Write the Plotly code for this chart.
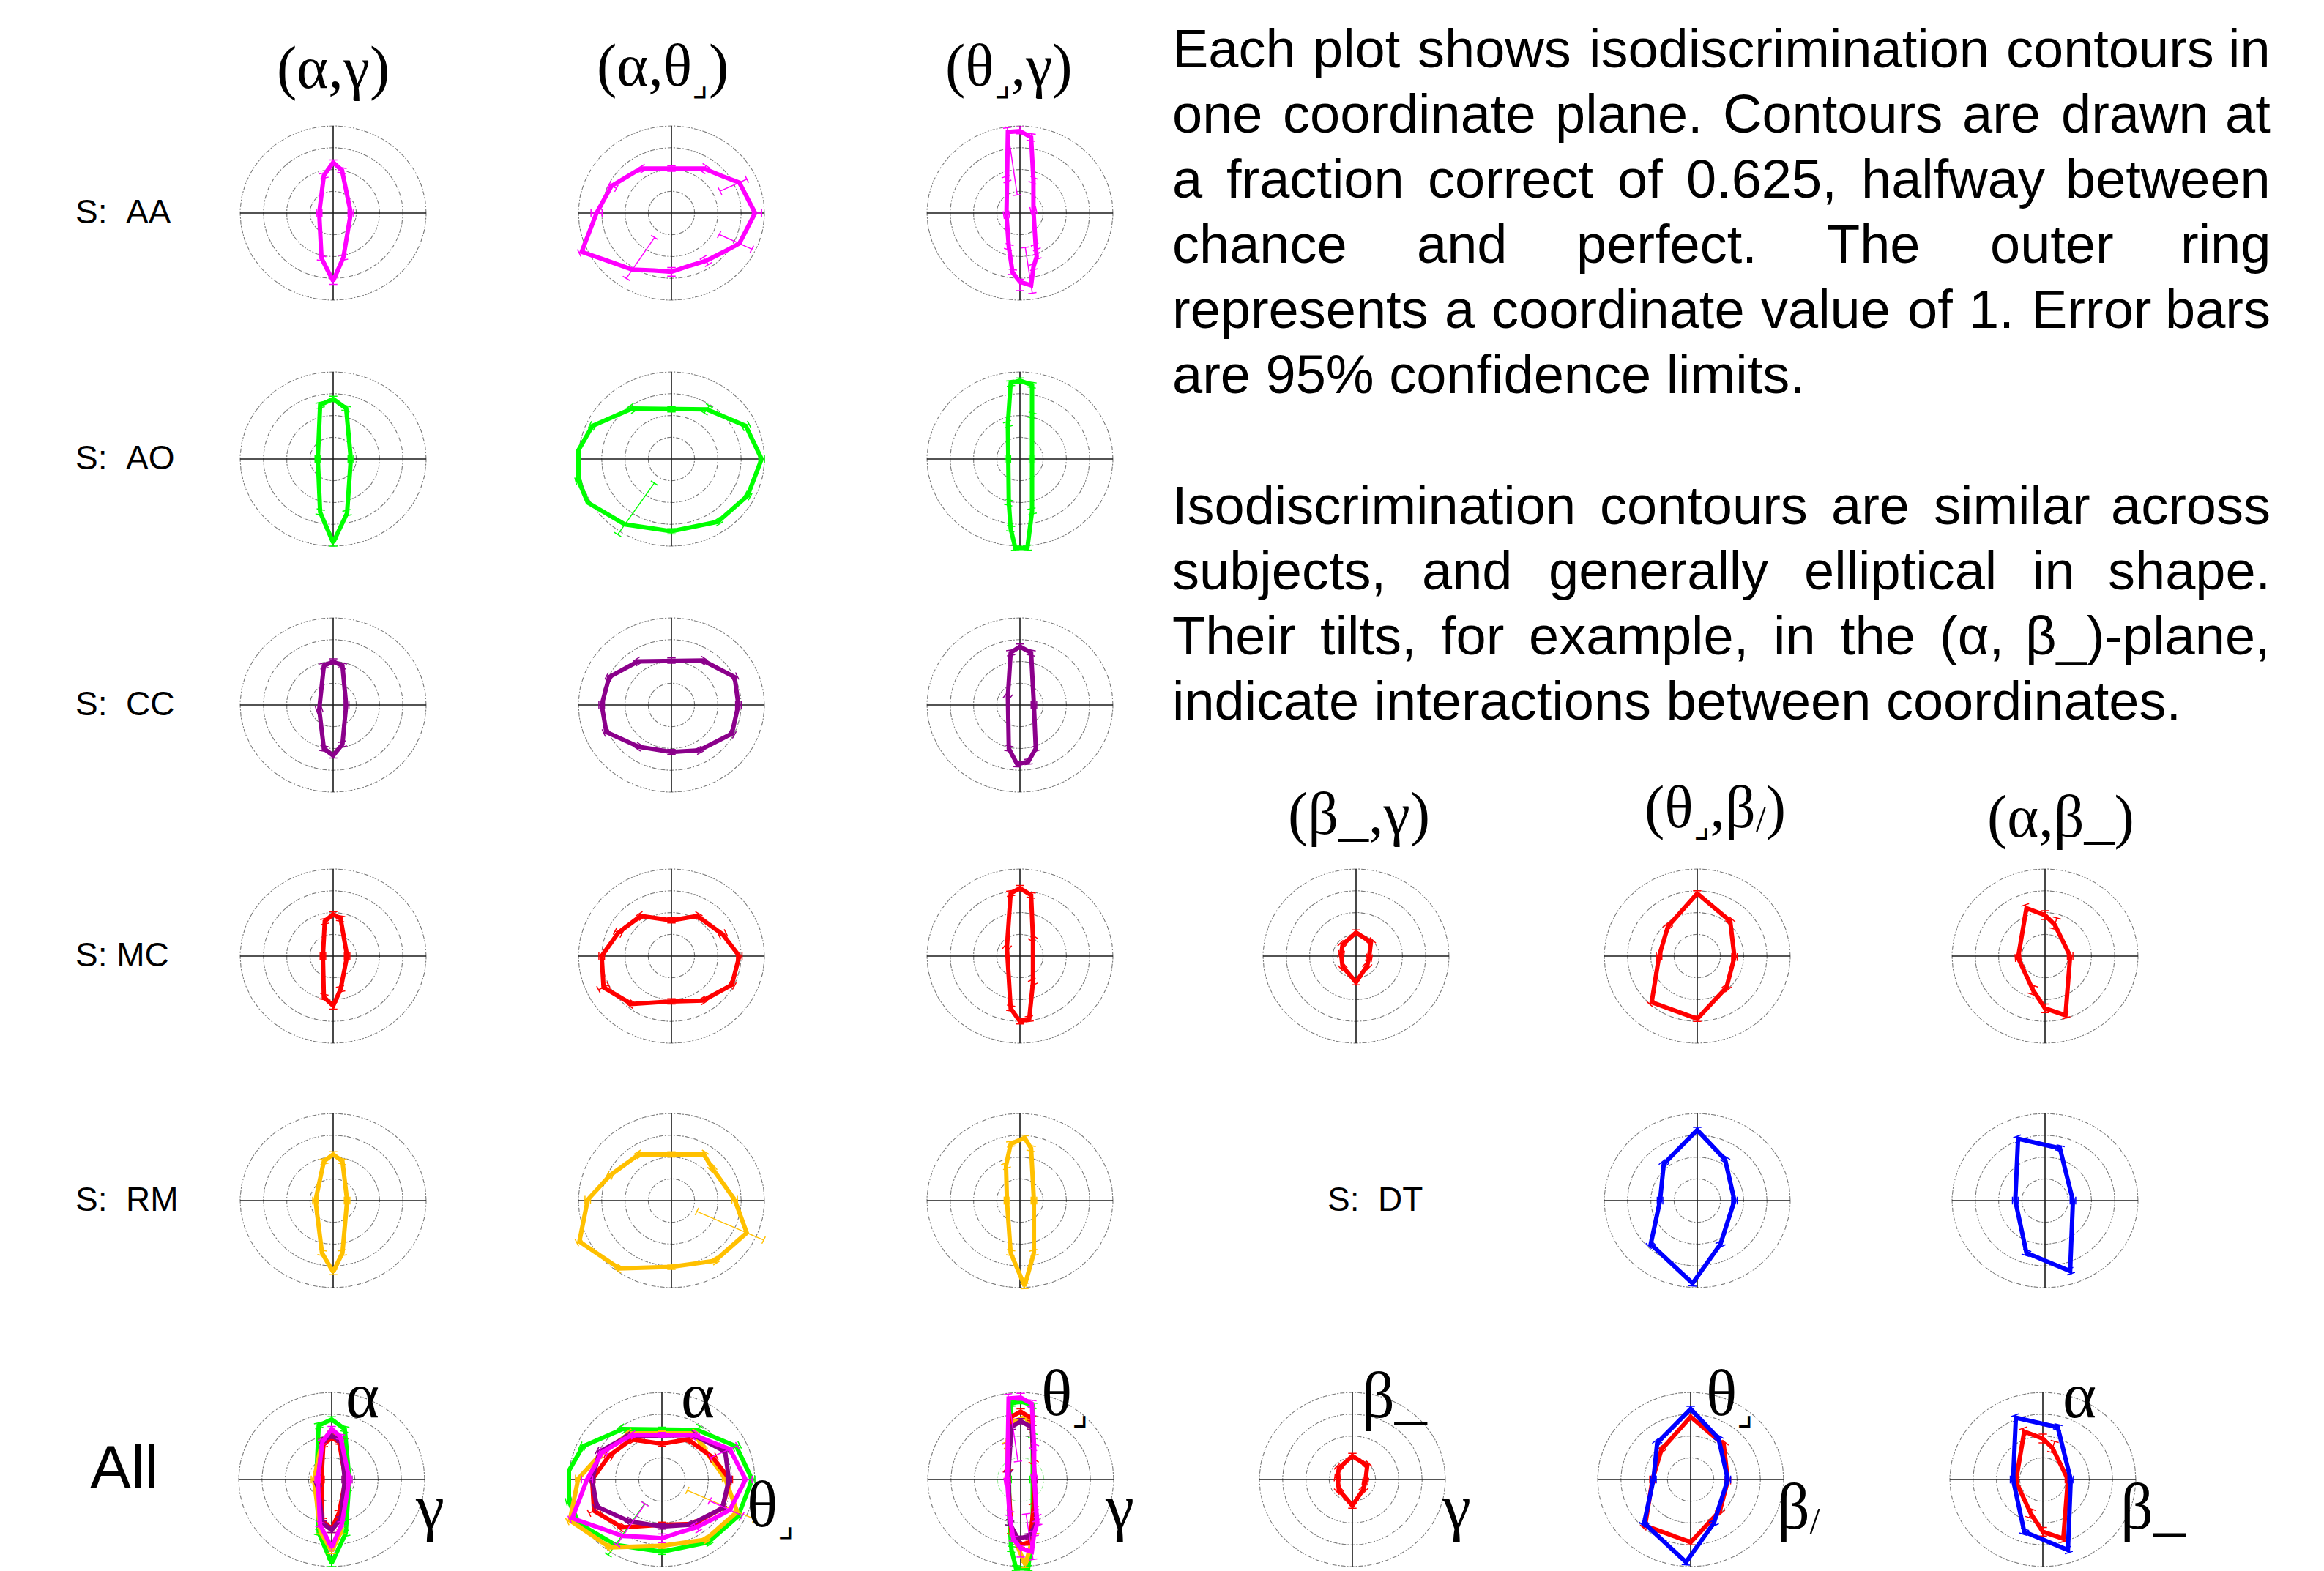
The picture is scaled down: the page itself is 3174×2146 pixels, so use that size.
import math
import plotly.graph_objects as go

W, H = 3174, 2146

# ---------------------------------------------------------------------------
# Isodiscrimination contours.  Each vertex: (x, y, inward limit, outward limit)
# in coordinate units; limits are 95% confidence extents along the radial
# direction through the vertex (0, 0 = no bar drawn).
# ---------------------------------------------------------------------------
AA_AG = [(0.19, 0.00, .03, .03), (0.095, 0.49, .03, .03), (0.00, 0.58, .03, .03),
         (-0.10, 0.43, .03, .03), (-0.15, 0.00, .03, .03), (-0.125, -0.52, .03, .03),
         (0.00, -0.78, .04, .04), (0.11, -0.51, .03, .03)]
AA_AT = [(0.90, 0.00, .03, .07), (0.73, 0.35, .23, .09), (0.555, 0.42, 0, 0),
         (0.35, 0.51, .04, .04), (0.00, 0.51, .03, .03), (-0.31, 0.51, .03, .03),
         (-0.38, 0.48, 0, 0), (-0.645, 0.31, .06, .03), (-0.805, 0.00, .06, .06),
         (-0.965, -0.445, .03, .03), (-0.685, -0.55, 0, 0), (-0.42, -0.65, .44, .12),
         (-0.19, -0.66, 0, 0), (0.00, -0.675, .05, .05), (0.195, -0.605, 0, 0),
         (0.37, -0.55, .05, .05), (0.555, -0.45, 0, 0), (0.73, -0.35, .24, .15)]
AA_TG = [(0.145, 0.03, .03, .03), (0.145, 0.375, .03, .03), (0.12, 0.87, .04, .04),
         (0.00, 0.94, .03, .05), (-0.13, 0.93, .73, .05), (-0.145, 0.39, .03, .03),
         (-0.145, -0.02, .03, .03), (-0.12, -0.39, .03, .03), (-0.08, -0.68, .03, .03),
         (0.00, -0.79, .03, .10), (0.12, -0.83, .44, .09), (0.145, -0.62, .03, .03),
         (0.18, -0.50, .03, .03), (0.17, -0.39, .03, .03)]

AO_AG = [(0.19, 0.00, .03, .03), (0.14, 0.58, .03, .03), (0.00, 0.69, .03, .03),
         (-0.14, 0.62, .03, .03), (-0.165, 0.00, .03, .03), (-0.14, -0.61, .03, .03),
         (0.00, -0.96, .04, .04), (0.15, -0.62, .03, .03)]
AO_AT = [(0.97, 0.00, .03, .03), (0.80, 0.38, .04, .04), (0.38, 0.57, .05, .05),
         (0.00, 0.57, .03, .03), (-0.42, 0.58, .04, .04), (-0.85, 0.38, .03, .03),
         (-1.00, 0.10, 0, 0), (-1.00, -0.25, .03, .03), (-0.90, -0.50, 0, 0),
         (-0.50, -0.75, .57, .14), (0.00, -0.83, .03, .03), (0.50, -0.72, .03, .03),
         (0.82, -0.42, .03, .03)]
AO_TG = [(0.13, 0.00, .03, .03), (0.13, 0.50, .03, .03), (0.13, 0.85, .03, .03),
         (0.00, 0.90, .03, .03), (-0.10, 0.87, .03, .03), (-0.13, 0.40, .03, .03),
         (-0.13, 0.00, .03, .03), (-0.12, -0.50, .03, .03), (-0.10, -0.80, .03, .03),
         (-0.05, -1.02, .03, .03), (0.08, -1.02, .03, .03), (0.13, -0.60, .03, .03)]

CC_AG = [(0.14, 0.00, .03, .03), (0.10, 0.45, .03, .03), (0.00, 0.50, .03, .03),
         (-0.10, 0.45, .03, .03), (-0.15, -0.05, .03, .03), (-0.10, -0.50, .03, .03),
         (0.00, -0.58, .03, .03), (0.10, -0.45, .03, .03)]
CC_AT = [(0.72, 0.00, .03, .03), (0.68, 0.32, .03, .03), (0.34, 0.51, .03, .03),
         (0.00, 0.51, .03, .03), (-0.36, 0.50, .03, .03), (-0.67, 0.32, .03, .03),
         (-0.75, 0.00, .03, .03), (-0.70, -0.31, .03, .03), (-0.35, -0.48, .03, .03),
         (0.00, -0.54, .03, .03), (0.30, -0.52, .03, .03), (0.65, -0.33, .03, .03)]
CC_TG = [(0.15, 0.00, .03, .03), (0.12, 0.60, .03, .03), (0.00, 0.67, .03, .03),
         (-0.10, 0.60, .03, .03), (-0.13, 0.10, .03, .03), (-0.12, -0.50, .03, .03),
         (-0.03, -0.68, .03, .03), (0.09, -0.65, .03, .03), (0.17, -0.50, .03, .03)]

MC_AG = [(0.15, 0.00, .03, .03), (0.08, 0.43, .03, .03), (0.00, 0.48, .03, .03),
         (-0.09, 0.40, .03, .03), (-0.11, 0.00, .03, .03), (-0.10, -0.47, .03, .03),
         (0.00, -0.57, .04, .04), (0.08, -0.38, .03, .03)]
MC_AT = [(0.73, 0.00, .03, .03), (0.55, 0.25, .04, .04), (0.28, 0.46, .03, .03),
         (0.00, 0.41, .03, .03), (-0.33, 0.46, .03, .03), (-0.57, 0.27, .04, .04),
         (-0.75, 0.00, .03, .03), (-0.73, -0.36, .06, .06), (-0.43, -0.55, .03, .03),
         (0.00, -0.52, .03, .03), (0.34, -0.51, .03, .03), (0.65, -0.33, .03, .03)]
MC_TG = [(0.14, 0.20, .03, .03), (0.12, 0.70, .03, .03), (0.00, 0.78, .03, .03),
         (-0.10, 0.72, .03, .03), (-0.14, 0.10, .03, .03), (-0.10, -0.60, .03, .03),
         (0.00, -0.75, .03, .03), (0.10, -0.72, .03, .03), (0.14, -0.30, .03, .03)]
MC_BG = [(0.14, -0.02, .03, .03), (0.16, 0.16, .03, .03), (0.00, 0.27, .03, .03),
         (-0.145, 0.13, .03, .03), (-0.16, 0.02, .03, .03), (-0.145, -0.12, .03, .03),
         (0.00, -0.30, .03, .03), (0.12, -0.11, .03, .03)]
MC_TB = [(0.40, -0.01, .03, .03), (0.355, 0.40, .03, .03), (0.00, 0.72, .03, .03),
         (-0.315, 0.34, .03, .03), (-0.41, 0.00, .03, .03), (-0.49, -0.53, .03, .03),
         (0.00, -0.72, .03, .03), (0.315, -0.36, .03, .03)]
MC_AB = [(0.27, 0.00, .03, .03), (0.105, 0.36, .05, .08), (0.00, 0.47, .05, .05),
         (-0.20, 0.55, .04, .04), (-0.29, -0.02, .03, .03), (-0.13, -0.39, .05, .05),
         (0.00, -0.60, .05, .05), (0.22, -0.68, .03, .03)]

RM_AG = [(0.15, 0.00, .03, .03), (0.10, 0.45, .03, .03), (0.00, 0.53, .03, .03),
         (-0.10, 0.45, .03, .03), (-0.19, 0.00, .03, .03), (-0.12, -0.60, .03, .03),
         (0.00, -0.82, .03, .03), (0.10, -0.60, .03, .03)]
RM_AT = [(0.68, 0.01, .03, .03), (0.44, 0.37, .03, .03), (0.35, 0.53, .03, .03),
         (0.00, 0.53, .03, .03), (-0.35, 0.53, .03, .03), (-0.66, 0.29, .03, .03),
         (-0.90, 0.01, .03, .03), (-0.99, -0.47, .03, .03), (-0.56, -0.78, .03, .03),
         (0.00, -0.76, .03, .03), (0.47, -0.69, .03, .03), (0.81, -0.37, .59, .20)]
RM_TG = [(0.15, 0.00, .03, .03), (0.12, 0.60, .03, .03), (0.05, 0.72, .03, .03),
         (-0.10, 0.65, .03, .03), (-0.15, 0.40, .03, .03), (-0.14, 0.00, .03, .03),
         (-0.10, -0.60, .03, .03), (0.05, -0.98, .03, .03), (0.15, -0.60, .03, .03)]

DT_TB = [(0.40, 0.00, .03, .03), (0.30, 0.47, .03, .03), (0.00, 0.81, .03, .03),
         (-0.36, 0.42, .03, .03), (-0.40, 0.00, .03, .03), (-0.50, -0.50, .03, .03),
         (-0.05, -0.95, .03, .03), (0.25, -0.50, .03, .03)]
DT_AB = [(0.30, 0.00, .03, .03), (0.16, 0.60, .03, .03), (-0.29, 0.71, .03, .03),
         (-0.32, 0.00, .03, .03), (-0.20, -0.60, .03, .03), (0.27, -0.81, .03, .03)]

SUBJECTS = ["AA", "AO", "CC", "MC", "RM"]
SUBJECT_LABELS = ["S:\u00a0\u00a0AA", "S:\u00a0\u00a0AO", "S:\u00a0\u00a0CC", "S:\u00a0MC", "S:\u00a0\u00a0RM"]

# small corner / slash marks that follow θ and β in the coordinate names,
# lowered below the baseline like subscripts
CORNER = "<span style='font-size:48px;baseline-shift:-14px'>⌟</span>"
SLASH = "<span style='font-size:50px;baseline-shift:-6px'>/</span>"
LEFT_PLANES = ["(α,γ)", "(α,θ" + CORNER + ")", "(θ" + CORNER + ",γ)"]
RIGHT_PLANES = ["(β_,γ)", "(θ" + CORNER + ",β" + SLASH + ")", "(α,β_)"]
ALL_AXIS_LABELS = [("α", "γ"), ("α", "θ" + CORNER), ("θ" + CORNER, "γ"),
                   ("β_", "γ"), ("θ" + CORNER, "β" + SLASH), ("α", "β_")]
RINGS = [0.25, 0.5, 0.75, 1.0]

PARA_1 = ["Each plot shows isodiscrimination contours in",
          "one coordinate plane. Contours are drawn at",
          "a fraction correct of 0.625, halfway between",
          "chance and perfect. The outer ring",
          "represents a coordinate value of 1. Error bars",
          "are 95% confidence limits."]
PARA_2 = ["Isodiscrimination contours are similar across",
          "subjects, and generally elliptical in shape.",
          "Their tilts, for example, in the (α, β_)-plane,",
          "indicate interactions between coordinates."]

# ---------------------------------------------------------------------------
# styling / page geometry (pixels)
# ---------------------------------------------------------------------------
COLORS = {"AA": "#ff00ff", "AO": "#00ff00", "CC": "#8b008b",
          "MC": "#ff0000", "RM": "#ffc000", "DT": "#0000ff"}
RX, RY = 127.0, 119.0          # pixels per coordinate unit
PAD = 1.35                     # plotted half-extent in coordinate units
LEFT_COLS = [455, 917, 1393]
LEFT_ROWS = [291, 627, 963, 1306, 1640]
RIGHT_COLS = [1852, 2318, 2793]
ALL_ROW = 2021
ALL_COLS = [453, 904, 1394, 1847, 2309, 2790]
SERIF = "Liberation Serif, DejaVu Serif, serif"
SANS = "Liberation Sans, Arial, DejaVu Sans, sans-serif"

fig = go.Figure()
axes = {}
annotations = []
n_panels = [0]


def add_panel(cx, cy, contours, inner_ring=None):
    n_panels[0] += 1
    n = n_panels[0]
    sx = "" if n == 1 else str(n)
    xref, yref = "x" + sx, "y" + sx
    x0, x1 = max(cx - PAD * RX, 0), min(cx + PAD * RX, W)
    top, bot = max(cy - PAD * RY, 0), min(cy + PAD * RY, H)
    axes["xaxis" + sx] = dict(domain=[x0 / W, x1 / W],
                              range=[(x0 - cx) / RX, (x1 - cx) / RX],
                              visible=False, fixedrange=True, anchor=yref)
    axes["yaxis" + sx] = dict(domain=[1 - bot / H, 1 - top / H],
                              range=[(cy - bot) / RY, (cy - top) / RY],
                              visible=False, fixedrange=True, anchor=xref)

    # reference rings
    for r in RINGS:
        ts = [2 * math.pi * i / 144 for i in range(145)]
        col = inner_ring if (inner_ring and r == RINGS[0]) else "#7a7a7a"
        fig.add_trace(go.Scatter(x=[r * math.cos(t) for t in ts],
                                 y=[r * math.sin(t) for t in ts],
                                 mode="lines", xaxis=xref, yaxis=yref,
                                 line=dict(color=col, width=1.1, dash="6px,2px,2px,2px"),
                                 hoverinfo="skip"))
    # axes cross
    fig.add_trace(go.Scatter(x=[-1, 1, None, 0, 0], y=[0, 0, None, -1, 1],
                             mode="lines", xaxis=xref, yaxis=yref,
                             line=dict(color="#1a1a1a", width=1.6), hoverinfo="skip"))

    for verts, color in contours:
        xs = [v[0] for v in verts] + [verts[0][0]]
        ys = [v[1] for v in verts] + [verts[0][1]]
        fig.add_trace(go.Scatter(x=xs, y=ys, mode="lines", xaxis=xref, yaxis=yref,
                                 line=dict(color=color, width=6), hoverinfo="skip"))
        ex, ey = [], []
        cap = 0.045
        for x, y, e_in, e_out in verts:
            if e_in == 0 and e_out == 0:
                continue
            r = math.hypot(x, y)
            ux, uy = x / r, y / r
            px, py = -uy * cap, ux * cap
            r0, r1 = r - e_in, r + e_out
            ex += [r0 * ux, r1 * ux, None,
                   r0 * ux - px, r0 * ux + px, None,
                   r1 * ux - px, r1 * ux + px, None]
            ey += [r0 * uy, r1 * uy, None,
                   r0 * uy - py, r0 * uy + py, None,
                   r1 * uy - py, r1 * uy + py, None]
        fig.add_trace(go.Scatter(x=ex, y=ey, mode="lines", xaxis=xref, yaxis=yref,
                                 line=dict(color=color, width=1.5), hoverinfo="skip"))


def note(text, x, y, size, family, xanchor="center", yanchor="middle"):
    annotations.append(dict(text=text, x=x / W, y=1 - y / H, xref="paper", yref="paper",
                            xanchor=xanchor, yanchor=yanchor, showarrow=False,
                            font=dict(size=size, family=family, color="black")))


# subject rows, three planes each
subject_data = {
    "AA": [AA_AG, AA_AT, AA_TG],
    "AO": [AO_AG, AO_AT, AO_TG],
    "CC": [CC_AG, CC_AT, CC_TG],
    "MC": [MC_AG, MC_AT, MC_TG],
    "RM": [RM_AG, RM_AT, RM_TG],
}
for i, subj in enumerate(SUBJECTS):
    for j in range(3):
        add_panel(LEFT_COLS[j], LEFT_ROWS[i], [(subject_data[subj][j], COLORS[subj])])
    note(SUBJECT_LABELS[i], 101, LEFT_ROWS[i] - 2, 46, SANS, xanchor="left")

# extra planes for MC and DT
for j, verts in enumerate([MC_BG, MC_TB, MC_AB]):
    add_panel(RIGHT_COLS[j], LEFT_ROWS[3], [(verts, COLORS["MC"])])
for j, verts in [(1, DT_TB), (2, DT_AB)]:
    add_panel(RIGHT_COLS[j], LEFT_ROWS[4], [(verts, COLORS["DT"])])
note("S:\u00a0\u00a0DT", 1811, LEFT_ROWS[4] - 2, 46, SANS, xanchor="left")

# pooled row: every subject overlaid
order = ["AO", "RM", "MC", "CC", "AA"]
for j in range(3):
    add_panel(ALL_COLS[j], ALL_ROW,
              [(subject_data[s][j], COLORS[s]) for s in order],
              inner_ring="#9be89b" if j == 2 else None)
add_panel(ALL_COLS[3], ALL_ROW, [(MC_BG, COLORS["MC"])])
add_panel(ALL_COLS[4], ALL_ROW, [(MC_TB, COLORS["MC"]), (DT_TB, COLORS["DT"])])
add_panel(ALL_COLS[5], ALL_ROW, [(MC_AB, COLORS["MC"]), (DT_AB, COLORS["DT"])])
note("All", 121, 2004, 84, SANS, xanchor="left")

# plane headings
for j, cx in enumerate([455, 905, 1378]):
    note(LEFT_PLANES[j], cx, 92, 82, SERIF)
for j, (cx, cy) in enumerate([(1856, 1111), (2342, 1105), (2814, 1115)]):
    note(RIGHT_PLANES[j], cx, cy, 82, SERIF)

# axis names on the pooled row
top_left = [470, 928, 1420, 1858, 2328, 2815]
side_left = [565, 1018, 1507, 1967, 2425, 2894]
for j, (a, b) in enumerate(ALL_AXIS_LABELS):
    note(a, top_left[j], 1906, 88, SERIF, xanchor="left")
    note(b, side_left[j], 2058, 88, SERIF, xanchor="left")

# ---------------------------------------------------------------------------
# justified description text (advance widths of Arial-metric glyphs, 1/1000 em)
# ---------------------------------------------------------------------------
ADV = {" ": 278, "%": 889, "(": 333, ")": 333, ",": 278, "-": 333, ".": 278,
       "/": 278, ":": 278, "_": 556, "α": 578, "β": 575,
       "A": 667, "B": 667, "C": 722, "D": 722, "E": 667, "F": 611, "G": 778,
       "H": 722, "I": 278, "J": 500, "K": 667, "L": 556, "M": 833, "N": 722,
       "O": 778, "P": 667, "Q": 778, "R": 722, "S": 667, "T": 611, "U": 722,
       "V": 667, "W": 944, "X": 667, "Y": 667, "Z": 611,
       "a": 556, "b": 556, "c": 500, "d": 556, "e": 556, "f": 278, "g": 556,
       "h": 556, "i": 222, "j": 222, "k": 500, "l": 222, "m": 833, "n": 556,
       "o": 556, "p": 556, "q": 556, "r": 333, "s": 500, "t": 278, "u": 556,
       "v": 500, "w": 722, "x": 500, "y": 500, "z": 500}
TEXT_SIZE = 74
TEXT_LEFT, TEXT_RIGHT = 1599, 3103
LINE_TOP, LINE_STEP = 67, 89


def width(s):
    return sum(ADV.get(ch, 556) for ch in s) * TEXT_SIZE / 1000.0


def text_block(lines, first_line):
    for k, line in enumerate(lines):
        y = LINE_TOP + LINE_STEP * (first_line + k)
        if k == len(lines) - 1:
            note(line, TEXT_LEFT, y, TEXT_SIZE, SANS, xanchor="left")
            continue
        words = line.split(" ")
        total = sum(width(w) for w in words)
        gap = (TEXT_RIGHT - TEXT_LEFT - total) / (len(words) - 1)
        x = TEXT_LEFT
        for m, w in enumerate(words):
            if m == len(words) - 1:
                note(w, TEXT_RIGHT, y, TEXT_SIZE, SANS, xanchor="right")
            else:
                note(w, x, y, TEXT_SIZE, SANS, xanchor="left")
            x += width(w) + gap


text_block(PARA_1, 0)
text_block(PARA_2, 7)

fig.update_layout(width=W, height=H, margin=dict(l=0, r=0, t=0, b=0),
                  paper_bgcolor="white", plot_bgcolor="rgba(0,0,0,0)",
                  showlegend=False, annotations=annotations, **axes)
fig.write_html("out.html")
